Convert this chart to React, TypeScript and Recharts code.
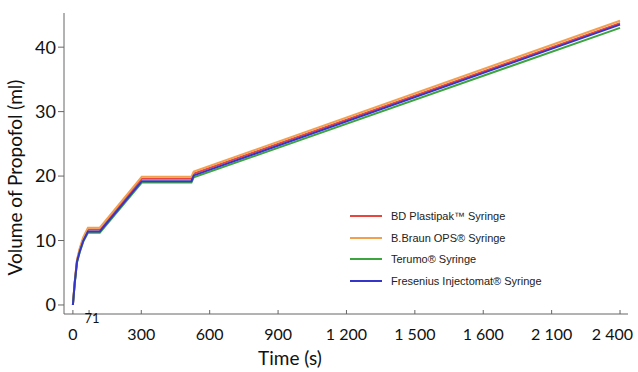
import React from "react"
import { LineChart, Line, XAxis, YAxis } from "recharts"

// time points (s) and infused volume (ml) for each syringe
const times = [0, 8, 18, 30, 45, 66, 118, 302, 520, 530, 2400]
const bdPlastipak = [0, 3.5, 6.9, 8.6, 10.2, 11.7, 11.7, 19.6, 19.6, 20.4, 43.7]
const bBraun = [0, 3.6, 7.0, 8.8, 10.5, 12.0, 12.0, 19.9, 19.9, 20.7, 44.1]
const terumo = [0, 3.3, 6.6, 8.2, 9.8, 11.2, 11.2, 19.0, 19.0, 19.8, 43.0]
const fresenius = [0, 3.4, 6.7, 8.3, 9.9, 11.4, 11.4, 19.2, 19.2, 20.1, 43.5]

const xTicks = [0, 71, 300, 600, 900, 1200, 1500, 1800, 2100, 2400]
const xTickLabels = ["0", "71", "300", "600", "900", "1 200", "1 500", "1 600", "2 100", "2 400"]
const yTicks = [0, 10, 20, 30, 40]

const series = [
  { key: "bd", name: "BD Plastipak™ Syringe", color: "#e8453f", values: bdPlastipak },
  { key: "bb", name: "B.Braun OPS® Syringe", color: "#f3a04e", values: bBraun },
  { key: "te", name: "Terumo® Syringe", color: "#3da53d", values: terumo },
  { key: "fr", name: "Fresenius Injectomat® Syringe", color: "#3535c9", values: fresenius },
]

const data = times.map((t, i) => {
  const row: Record<string, number> = { t }
  series.forEach((s) => (row[s.key] = s.values[i]))
  return row
})

const axisColor = "#666"
const font = "Lato, 'Open Sans', sans-serif"

const XTick = (props: any) => {
  const { x, y, payload } = props
  const idx = xTicks.indexOf(payload.value)
  const label = xTickLabels[idx] ?? String(payload.value)
  const small = payload.value === 71
  const last = idx === xTicks.length - 1
  return (
    <g>
      <line x1={x} x2={x} y1={y} y2={y - 4} stroke={axisColor} />
      <text
        x={small ? x + 3 : last ? x + 13 : x}
        y={small ? y + 9 : y + 26}
        textAnchor={last ? "end" : "middle"}
        fontSize={small ? 13 : 16}
        fontFamily={font}
        fill="#111"
      >
        {label}
      </text>
    </g>
  )
}

const LegendBox = () => (
  <div
    style={{
      position: "absolute",
      left: 350,
      top: 205,
      fontFamily: "'Liberation Sans', Arial, sans-serif",
      fontSize: 11,
      color: "#222",
    }}
  >
    {series.map((s) => (
      <div key={s.key} style={{ display: "flex", alignItems: "center", height: 21.7 }}>
        <div style={{ width: 32, height: 2, background: s.color, marginRight: 9 }} />
        <span>{s.name}</span>
      </div>
    ))}
  </div>
)

export default function App() {
  return (
    <div style={{ position: "fixed", left: 0, top: 0, width: 638, height: 372, background: "#fff" }}>
      <LineChart width={638} height={372} data={data} margin={{ top: 13, right: 10, left: 0, bottom: 0 }}>
        <XAxis
          dataKey="t"
          type="number"
          domain={[-39, 2435]}
          ticks={xTicks}
          interval={0}
          tick={<XTick />}
          tickLine={false}
          tickSize={0}
          tickMargin={0}
          height={58}
          stroke={axisColor}
          label={{ value: "Time (s)", position: "insideBottom", offset: 7, fontSize: 19, fontFamily: font, fill: "#111", dx: -56 }}
        />
        <YAxis
          type="number"
          domain={[-1.4, 45.3]}
          ticks={yTicks}
          interval={0}
          width={64}
          tickSize={6}
          tickMargin={2}
          stroke={axisColor}
          tick={{ fontSize: 18, fontFamily: font, fill: "#111" }}
          label={{ value: "Volume of Propofol (ml)", angle: -90, position: "insideLeft", offset: 15, fontSize: 19, fontFamily: font, fill: "#111", dy: 112 }}
        />
        {series.map((s) => (
          <Line
            key={s.key}
            dataKey={s.key}
            name={s.name}
            stroke={s.color}
            strokeWidth={2}
            dot={false}
            isAnimationActive={false}
            type="linear"
          />
        ))}
      </LineChart>
      <LegendBox />
    </div>
  )
}
